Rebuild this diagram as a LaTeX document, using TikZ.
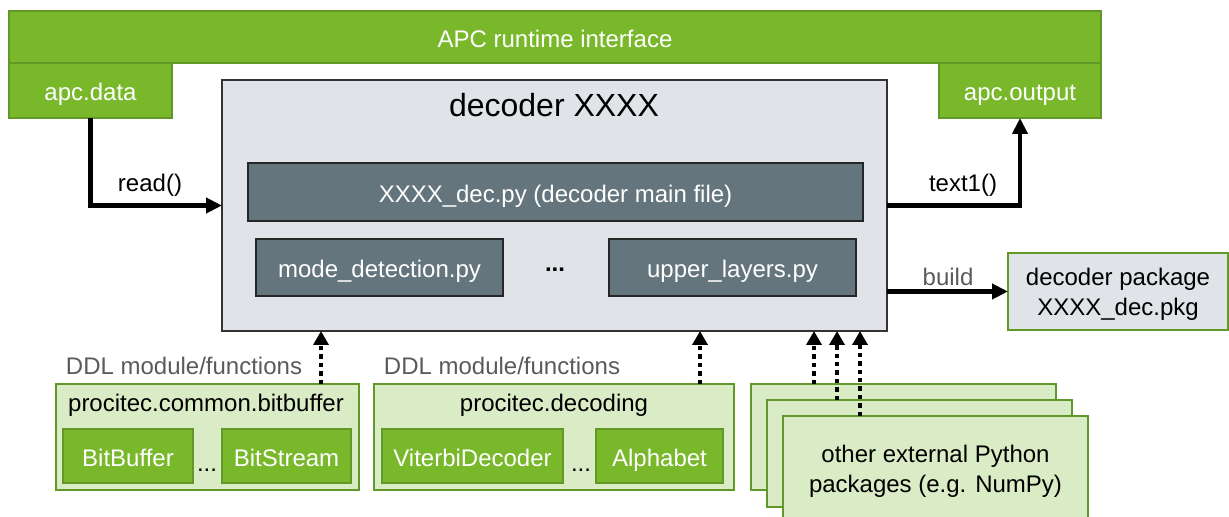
\documentclass[tikz,border=0pt]{standalone}
\usepackage{fontspec}
\setmainfont{Liberation Sans}
\usetikzlibrary{arrows.meta}
\definecolor{apcgreen}{RGB}{120,184,42}
\definecolor{apcborder}{RGB}{98,152,40}
\definecolor{lightgreen}{RGB}{217,236,197}
\definecolor{boxgrey}{RGB}{224,227,231}
\definecolor{slate}{RGB}{101,117,125}
\definecolor{labelgrey}{RGB}{90,90,90}
\begin{document}
\begin{tikzpicture}[x=0.5pt,y=-0.5pt]
\tikzset{box/.style={draw, rectangle, inner sep=0pt, outer sep=0pt, line width=0.6pt, font=\fontsize{12}{15}\selectfont},
  onerow/.style={text height=12.5pt, text depth=2pt},
  greenbox/.style={box, onerow, draw=apcborder, fill=apcgreen, text=white},
  filebox/.style={box, onerow, draw=black!85, fill=slate, text=white},
  groupbox/.style={box, draw=apcborder, fill=lightgreen},
  lbl/.style={inner sep=0pt, font=\fontsize{12}{15}\selectfont},
  flow/.style={line width=2.2pt, -{Triangle[length=8pt, width=7.5pt]}},
  dep/.style={line width=2.2pt, dash pattern=on 2.2pt off 2pt, -{Triangle[length=7pt, width=7.5pt]}}}
\useasboundingbox (0,0) rectangle (1229,517);
\node[greenbox, minimum width=546pt, minimum height=26pt] (apc) at (555,37) {APC runtime interface};
\node[greenbox, minimum width=81.5pt, minimum height=27.5pt] (data) at (90.5,90.5) {apc.data};
\node[greenbox, minimum width=81pt, minimum height=27.5pt] (out) at (1020,90.5) {apc.output};
\node[box, draw=black!80, fill=boxgrey, minimum width=332.5pt, minimum height=125.5pt] (dec) at (554.5,205.5) {};
\node[lbl, font=\fontsize{16}{19}\selectfont, anchor=base] (title) at (554,117) {decoder XXXX};
\node[filebox, minimum width=307.5pt, minimum height=29pt] (main) at (555.5,192) {XXXX\_dec.py (decoder main file)};
\node[filebox, minimum width=123.5pt, minimum height=28.5pt] (mode) at (379.5,267.5) {mode\_detection.py};
\node[filebox, minimum width=123.5pt, minimum height=28.5pt] (upper) at (732.5,267.5) {upper\_layers.py};
\node[lbl, font=\fontsize{12}{15}\bfseries] (mdots) at (555,270) {...};
\node[box, align=center, text depth=-3.5pt, draw=apcborder, fill=boxgrey, minimum width=110pt, minimum height=38.5pt] (pkg) at (1118,291.5) {decoder package\\XXXX\_dec.pkg};
\node[groupbox, minimum width=151.5pt, minimum height=53pt] (bitbuf) at (207.5,437) {};
\node[lbl] (bbtitle) at (206,405) {procitec.common.bitbuffer};
\node[greenbox, minimum width=65pt, minimum height=27pt] (bb1) at (128,456) {BitBuffer};
\node[greenbox, minimum width=64.5pt, minimum height=27pt] (bb2) at (286.5,456) {BitStream};
\node[lbl, anchor=base] (bbdots) at (207,471) {...};
\node[groupbox, minimum width=180pt, minimum height=53pt] (decoding) at (554,437) {};
\node[lbl] (dctitle) at (554,405) {procitec.decoding};
\node[greenbox, minimum width=90.5pt, minimum height=27pt] (vit) at (472.5,456) {ViterbiDecoder};
\node[greenbox, minimum width=63.5pt, minimum height=27pt] (alpha) at (659.5,456) {Alphabet};
\node[lbl, anchor=base] (dcdots) at (581,471) {...};
\node[groupbox, minimum width=152.5pt, minimum height=53pt] (ext1) at (903.5,437) {};
\node[groupbox, minimum width=152.5pt, minimum height=53.5pt] (ext2) at (919.5,453.5) {};
\node[groupbox, align=center, text depth=-2.5pt, minimum width=152.5pt, minimum height=53pt] (ext3) at (935.5,469) {other external Python\\packages (e.g. NumPy)};
\node[lbl, text=labelgrey] (ddl1) at (184,366) {DDL module/functions};
\node[lbl, text=labelgrey] (ddl2) at (502,366) {DDL module/functions};
\node[lbl] (read) at (150,185) {read()};
\node[lbl] (text) at (963,185) {text1()};
\node[lbl, text=labelgrey] (build) at (948,277) {build};
\draw[flow] (data.south) |- (dec.west);
\draw[flow] (dec.east) -| (out.south);
\draw[flow] (dec.east |- pkg.west) -- (pkg.west);
\draw[dep] ([xshift=-19pt]bitbuf.north east) -- ([xshift=-19pt]bitbuf.north east |- dec.south);
\draw[dep] ([xshift=-17pt]decoding.north east) -- ([xshift=-17pt]decoding.north east |- dec.south);
\draw[dep] ([xshift=31.5pt]ext1.north west) -- ([xshift=31.5pt]ext1.north west |- dec.south);
\draw[dep] ([xshift=35pt]ext2.north west) -- ([xshift=35pt]ext2.north west |- dec.south);
\draw[dep] ([xshift=38.5pt]ext3.north west) -- ([xshift=38.5pt]ext3.north west |- dec.south);
\end{tikzpicture}
\end{document}
